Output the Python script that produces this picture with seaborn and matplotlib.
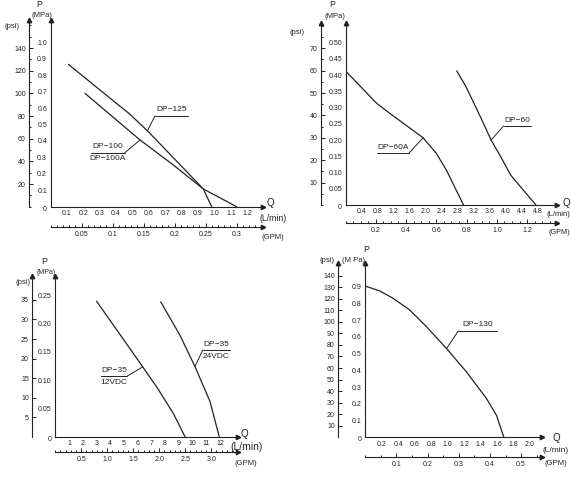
import numpy as np
import matplotlib
matplotlib.use("Agg")
import matplotlib.pyplot as plt
import seaborn as sns
from matplotlib.ticker import MultipleLocator

# ---------------- data (Q in L/min, P in MPa) ----------------
dp125_q = [0.109, 0.485, 0.597, 0.932, 0.983]
dp125_p = [0.866, 0.562, 0.456, 0.108, 0.0]
dp100_q = [0.210, 0.546, 0.749, 0.932, 1.135]
dp100_p = [0.690, 0.406, 0.254, 0.108, 0.0]

dp60a_q = [0.0, 0.78, 1.11, 1.94, 2.27, 2.52, 2.95]
dp60a_p = [0.413, 0.313, 0.282, 0.207, 0.159, 0.108, 0.0]
dp60_q = [2.78, 3.01, 3.39, 3.64, 3.88, 4.13, 4.76]
dp60_p = [0.413, 0.365, 0.267, 0.200, 0.149, 0.092, 0.0]

dp35_12_q = [3.01, 6.29, 7.38, 8.60, 9.45]
dp35_12_p = [0.239, 0.126, 0.088, 0.041, 0.0]
dp35_24_q = [7.68, 9.08, 10.17, 11.27, 11.94]
dp35_24_p = [0.238, 0.179, 0.124, 0.062, 0.0]

dp130_q = [0.0, 0.176, 0.338, 0.54, 0.744, 0.987, 1.23, 1.473, 1.594, 1.683]
dp130_p = [0.903, 0.874, 0.83, 0.76, 0.66, 0.53, 0.39, 0.231, 0.131, 0.0]

# tick labels
p1_mpa = ["0.1", "0.2", "0.3", "0.4", "0.5", "0.6", "0.7", "0.8", "0.9", "1.0"]
p1_psi = ["20", "40", "60", "80", "100", "120", "140"]
p1_lpm = ["0.1", "0.2", "0.3", "0.4", "0.5", "0.6", "0.7", "0.8", "0.9", "1.0", "1.1", "1.2"]
p1_gpm = ["0.05", "0.1", "0.15", "0.2", "0.25", "0.3"]

p2_mpa = ["0.05", "0.10", "0.15", "0.20", "0.25", "0.30", "0.35", "0.40", "0.45", "0.50"]
p2_psi = ["10", "20", "30", "40", "50", "60", "70"]
p2_lpm = ["0.4", "0.8", "1.2", "1.6", "2.0", "2.4", "2.8", "3.2", "3.6", "4.0", "4.4", "4.8"]
p2_gpm = ["0.2", "0.4", "0.6", "0.8", "1.0", "1.2"]

p3_mpa = ["0.05", "0.10", "0.15", "0.20", "0.25"]
p3_psi = ["5", "10", "15", "20", "25", "30", "35"]
p3_lpm = ["1", "2", "3", "4", "5", "6", "7", "8", "9", "10", "11", "12"]
p3_gpm = ["0.5", "1.0", "1.5", "2.0", "2.5", "3.0"]

p4_mpa = ["0.1", "0.2", "0.3", "0.4", "0.5", "0.6", "0.7", "0.8", "0.9"]
p4_psi = ["10", "20", "30", "40", "50", "60", "70", "80", "90", "100", "110", "120", "130", "140"]
p4_lpm = ["0.2", "0.4", "0.6", "0.8", "1.0", "1.2", "1.4", "1.6", "1.8", "2.0"]
p4_gpm = ["0.1", "0.2", "0.3", "0.4", "0.5"]

PSI_PER_MPA = 145.038
LPM_PER_GPM = 3.78541

# ---------------- style ----------------
sns.set_style("white")
plt.rcParams["font.family"] = ["Liberation Sans", "DejaVu Sans"]
INK = "#222222"
W, H = 571, 478
fig = plt.figure(figsize=(W / 100, H / 100), dpi=100)
fig.patch.set_facecolor("white")


def fx(x):
    return x / W


def fy(y):
    return 1 - y / H


def ftext(x, y, s, size=5.5, ha="center"):
    fig.text(fx(x), fy(y), s, fontsize=size, ha=ha, va="center", color=INK)


def make_panel(rect, xmax, ymax, mpa_lab, mpa_minor, psi_lab, psi_minor,
               lpm_lab, lpm_minor, gpm_lab, gpm_minor, psi_off, gpm_off):
    left, top, right, bottom = rect
    w, h = right - left, bottom - top
    ax = fig.add_axes([fx(left), fy(bottom), w / W, h / H])
    ax.set_xlim(0, xmax)
    ax.set_ylim(0, ymax)
    ax.set_facecolor("none")
    for s in ["top", "right"]:
        ax.spines[s].set_visible(False)
    for s in ["left", "bottom"]:
        ax.spines[s].set_linewidth(0.8)
        ax.spines[s].set_color(INK)
    ax.set_yticks([float(v) for v in mpa_lab])
    ax.set_yticklabels(mpa_lab)
    ax.yaxis.set_minor_locator(MultipleLocator(mpa_minor))
    ax.set_xticks([float(v) for v in lpm_lab])
    ax.set_xticklabels(lpm_lab)
    ax.xaxis.set_minor_locator(MultipleLocator(lpm_minor))
    ax.tick_params(which="both", direction="in", color=INK, width=0.7,
                   labelsize=5, labelcolor=INK, pad=2.5)
    ax.tick_params(which="major", length=3)
    ax.tick_params(which="minor", length=1.6)
    ax.set_xlabel("")
    ax.set_ylabel("")

    # psi axis
    sec = ax.secondary_yaxis(-psi_off / w, functions=(lambda m: m * PSI_PER_MPA,
                                                        lambda p: p / PSI_PER_MPA))
    sec.set_yticks([float(v) for v in psi_lab])
    sec.set_yticklabels(psi_lab)
    if psi_minor:
        sec.yaxis.set_minor_locator(MultipleLocator(psi_minor))
    else:
        sec.yaxis.set_minor_locator(matplotlib.ticker.NullLocator())
    sec.spines["left"].set_linewidth(0.8)
    sec.spines["left"].set_color(INK)
    sec.tick_params(which="both", direction="in", color=INK, width=0.7,
                    labelsize=5, labelcolor=INK, pad=2.5)
    sec.tick_params(which="major", length=3)
    sec.tick_params(which="minor", length=1.6)

    # GPM axis
    secx = ax.secondary_xaxis(-gpm_off / h, functions=(lambda l: l / LPM_PER_GPM,
                                                         lambda g: g * LPM_PER_GPM))
    secx.set_xticks([float(v) for v in gpm_lab])
    secx.set_xticklabels(gpm_lab)
    secx.xaxis.set_minor_locator(MultipleLocator(gpm_minor))
    secx.spines["bottom"].set_linewidth(0.8)
    secx.spines["bottom"].set_color(INK)
    secx.tick_params(which="both", direction="in", color=INK, width=0.7,
                     labelsize=5, labelcolor=INK, pad=3)
    secx.tick_params(which="major", length=2.6)
    secx.tick_params(which="minor", length=1.4)

    # arrows at the axis ends
    kw = dict(color=INK, transform=ax.transAxes, clip_on=False, ms=3.2, ls="none")
    ax.plot([0], [1], marker="^", **kw)
    ax.plot([-psi_off / w], [1], marker="^", **kw)
    ax.plot([1], [0], marker=">", **kw)
    ax.plot([1], [-gpm_off / h], marker=">", **kw)

    # shared origin label
    ax.annotate("0", xy=(0, 0), xytext=(-6, -2.5), textcoords="offset pixels",
                fontsize=5, ha="center", va="center", color=INK)
    return ax


def curve(ax, q, p):
    sns.lineplot(x=q, y=p, ax=ax, color=INK, lw=0.9, sort=False, estimator=None,
                 legend=False)


def tag(ax, q, p, qa, x0, x1, y, top_text, bottom_text=None, from_right=True):
    """underlined label with a leader to the curve point at Q = qa"""
    pa = float(np.interp(qa, q, p))
    ax.plot([x0, x1], [y, y], color=INK, lw=0.7)
    xe = x1 if from_right else x0
    ax.plot([xe, qa], [y, pa], color=INK, lw=0.7)
    xm = (x0 + x1) / 2
    ax.annotate(top_text, xy=(xm, y), xytext=(0, 2.5), textcoords="offset pixels",
                ha="center", va="bottom", fontsize=6, color=INK)
    if bottom_text:
        ax.annotate(bottom_text, xy=(xm, y), xytext=(0, -2.5), textcoords="offset pixels",
                    ha="center", va="top", fontsize=6, color=INK)


# ---------------- panel 1 ----------------
ax1 = make_panel((50.5, 20, 263, 206.7), 1.296, 1.136, p1_mpa, 0.05, p1_psi, 10,
                 p1_lpm, 0.05, p1_gpm, 0.01, 21.2, 20)
curve(ax1, dp125_q, dp125_p)
curve(ax1, dp100_q, dp100_p)
tag(ax1, dp125_q, dp125_p, 0.591, 0.637, 0.838, 0.552, "DP−125", from_right=False)
tag(ax1, dp100_q, dp100_p, 0.546, 0.244, 0.453, 0.328, "DP−100", "DP−100A")
ftext(39.5, 4.5, "P", 6.2)
ftext(41.5, 15.5, "(MPa)")
ftext(11.7, 26, "(psi)")
ftext(270, 203, "Q", 7)
ftext(272.7, 218.3, "(L/min)", 6.3)
ftext(273.3, 237.7, "(GPM)", 5.5)

# ---------------- panel 2 ----------------
ax2 = make_panel((345.5, 23, 556.5, 205), 5.275, 0.5605, p2_mpa, 0.025, p2_psi, 5,
                 p2_lpm, 0.2, p2_gpm, 0.05, 24.5, 17.7)
curve(ax2, dp60a_q, dp60a_p)
curve(ax2, dp60_q, dp60_p)
tag(ax2, dp60a_q, dp60a_p, 1.94, 0.78, 1.58, 0.159, "DP−60A")
tag(ax2, dp60_q, dp60_p, 3.64, 3.95, 4.63, 0.243, "DP−60", from_right=False)
ftext(331.7, 4.5, "P", 6.2)
ftext(335, 16, "(MPa)")
ftext(297, 32.3, "(psi)")
ftext(566, 203.3, "Q", 7)
ftext(570, 214.5, "(L/min)", 5.5, ha="right")
ftext(570, 233, "(GPM)", 5.2, ha="right")

# ---------------- panel 3 ----------------
ax3 = make_panel((55.3, 276, 238.3, 436.7), 13.33, 0.2836, p3_mpa, 0.025, p3_psi, 0,
                 p3_lpm, 0.5, p3_gpm, 0.1, 23, 15)
curve(ax3, dp35_12_q, dp35_12_p)
curve(ax3, dp35_24_q, dp35_24_p)
tag(ax3, dp35_12_q, dp35_12_p, 6.37, 3.31, 5.24, 0.107, "DP−35", "12VDC")
tag(ax3, dp35_24_q, dp35_24_p, 10.17, 10.74, 12.72, 0.153, "DP−35", "24VDC",
    from_right=False)
ftext(44.3, 261.7, "P", 6.5)
ftext(46.7, 272.7, "(MPa)", 5)
ftext(23.3, 282.3, "(psi)")
ftext(244.3, 434, "Q", 7)
ftext(246.7, 446.7, "(L/min)", 7.5)
ftext(245.7, 463.3, "(GPM)", 5.5)

# ---------------- panel 4 ----------------
ax4 = make_panel((365.3, 263.3, 541.7, 437.3), 2.143, 1.039, p4_mpa, 0.05, p4_psi, 0,
                 p4_lpm, 0.1, p4_gpm, 0.05, 27, 20)
curve(ax4, dp130_q, dp130_p)
tag(ax4, dp130_q, dp130_p, 0.987, 1.13, 1.597, 0.635, "DP−130", from_right=False)
ftext(366.7, 250, "P", 6.5)
ftext(327.5, 260, "(psi)")
ftext(353.7, 260, "(M Pa)")
ftext(556.7, 438.3, "Q", 7)
ftext(555.7, 450, "(L/min)", 6)
ftext(555.7, 463.3, "(GPM)", 5.5)

fig.savefig("out.png", dpi=100, facecolor="white")
